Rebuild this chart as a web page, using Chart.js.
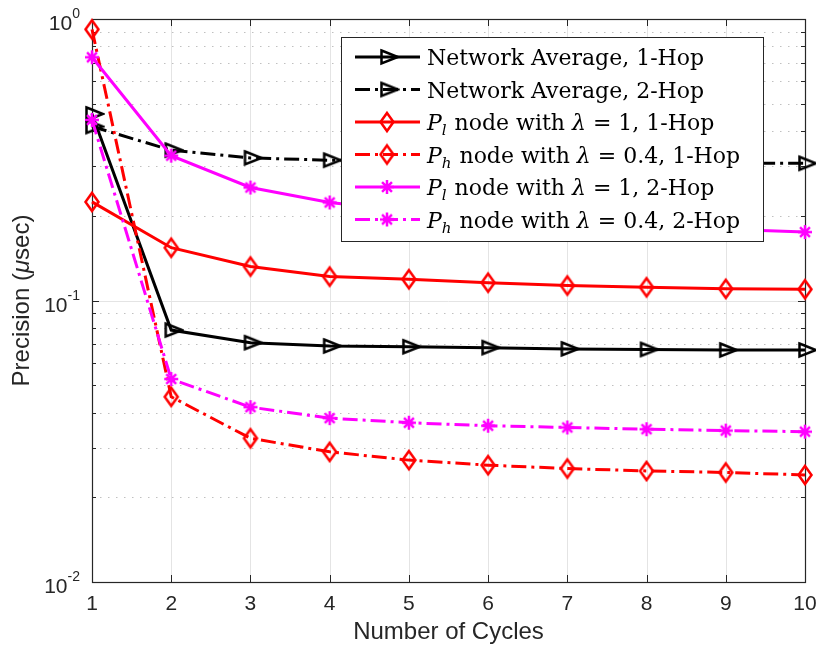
<!DOCTYPE html>
<html><head><meta charset="utf-8">
<script src="https://cdn.jsdelivr.net/npm/chart.js@4/dist/chart.umd.min.js"></script>
<style>html,body{margin:0;padding:0;background:#fff;}#wrap{width:816px;height:647px;position:relative;}</style>
</head><body><div id="wrap"><canvas id="c" width="816" height="647"></canvas></div>
<script>
// ---------------- data ----------------
const cycles = [1, 2, 3, 4, 5, 6, 7, 8, 9, 10];
const netAvg1Hop = [0.46, 0.0785, 0.0708, 0.0689, 0.0685, 0.068, 0.0673, 0.067, 0.0667, 0.0667];
const netAvg2Hop = [0.415, 0.342, 0.321, 0.315, 0.313, 0.312, 0.310, 0.309, 0.308, 0.307];
const plNode1Hop = [0.224, 0.154, 0.132, 0.1216, 0.119, 0.1157, 0.113, 0.1114, 0.110, 0.1096];
const phNode1Hop = [0.919, 0.0455, 0.0324, 0.029, 0.0271, 0.026, 0.0253, 0.0248, 0.0245, 0.024];
const plNode2Hop = [0.731, 0.327, 0.252, 0.223, 0.208, 0.198, 0.190, 0.184, 0.179, 0.175];
const phNode2Hop = [0.438, 0.0526, 0.0418, 0.0382, 0.0368, 0.0359, 0.0354, 0.0349, 0.0345, 0.0342];
const seriesLabels = [
  'Network Average, 1-Hop',
  'Network Average, 2-Hop',
  'P_l node with λ = 1, 1-Hop',
  'P_h node with λ = 0.4, 1-Hop',
  'P_l node with λ = 1, 2-Hop',
  'P_h node with λ = 0.4, 2-Hop'
];
const yMajorTicks = [0.01, 0.1, 1];
const yMajorExponents = ['-2', '-1', '0'];
const yMinorMultipliers = [2, 3, 4, 5, 6, 7, 8, 9];
const xTitle = 'Number of Cycles';
const yTitleParts = [['Precision (', false], ['μ', true], ['sec)', false]];

// ---------------- styles ----------------
const AX = '#262626';
const DASHDOT = [15, 5, 3, 5];
function makeMarker(kind, color) {
  const c = document.createElement('canvas');
  c.width = 26; c.height = 26;
  const g = c.getContext('2d');
  g.strokeStyle = color; g.lineWidth = 2.5; g.lineJoin = 'miter';
  const cx = 13, cy = 13;
  g.beginPath();
  if (kind === 'tri') {
    const w = 16.5, h = 13;
    g.moveTo(cx - w / 3, cy - h / 2); g.lineTo(cx + 2 * w / 3, cy); g.lineTo(cx - w / 3, cy + h / 2); g.closePath();
  } else if (kind === 'dia') {
    const hw = 6.5, hh = 9;
    g.moveTo(cx, cy - hh); g.lineTo(cx + hw, cy); g.lineTo(cx, cy + hh); g.lineTo(cx - hw, cy); g.closePath();
  } else {
    const r = 7, d = r * Math.SQRT1_2;
    g.moveTo(cx - r, cy); g.lineTo(cx + r, cy);
    g.moveTo(cx, cy - r); g.lineTo(cx, cy + r);
    g.moveTo(cx - d, cy - d); g.lineTo(cx + d, cy + d);
    g.moveTo(cx - d, cy + d); g.lineTo(cx + d, cy - d);
  }
  g.stroke();
  return c;
}
const seriesValues = [netAvg1Hop, netAvg2Hop, plNode1Hop, phNode1Hop, plNode2Hop, phNode2Hop];
const seriesColors = ['#000000', '#000000', '#ff0000', '#ff0000', '#ff00ff', '#ff00ff'];
const seriesMarkers = ['tri', 'tri', 'dia', 'dia', 'star', 'star'];
const seriesDash = [[], DASHDOT, [], DASHDOT, [], DASHDOT];

const datasets = seriesValues.map((vals, i) => ({
  label: seriesLabels[i],
  data: cycles.map((c, j) => ({ x: c, y: vals[j] })),
  borderColor: seriesColors[i],
  backgroundColor: seriesColors[i],
  borderWidth: 3,
  borderDash: seriesDash[i],
  borderCapStyle: 'butt',
  pointStyle: makeMarker(seriesMarkers[i], seriesColors[i]),
  pointRadius: 8,
  pointHoverRadius: 8,
  tension: 0,
  clip: false,
  order: seriesValues.length - i
}));

// ---------------- plugins ----------------
const matlabAxes = {
  id: 'matlabAxes',
  beforeDatasetsDraw(chart) {
    const { ctx, chartArea: { left, right, top, bottom }, scales: { x, y } } = chart;
    ctx.save();
    // major grid
    ctx.strokeStyle = '#e4e4e4'; ctx.lineWidth = 1;
    ctx.beginPath();
    cycles.forEach(c => { const px = Math.round(x.getPixelForValue(c)) + 0.5; ctx.moveTo(px, top); ctx.lineTo(px, bottom); });
    yMajorTicks.forEach(v => { const py = Math.round(y.getPixelForValue(v)) + 0.5; ctx.moveTo(left, py); ctx.lineTo(right, py); });
    ctx.stroke();
    // minor dotted grid
    ctx.strokeStyle = '#c0c0c0'; ctx.setLineDash([1.5, 6.5]);
    ctx.beginPath();
    yMajorTicks.slice(0, -1).forEach(d => yMinorMultipliers.forEach(k => {
      const py = Math.round(y.getPixelForValue(d * k)) + 0.5; ctx.moveTo(left, py); ctx.lineTo(right, py);
    }));
    ctx.stroke();
    ctx.setLineDash([]);
    // ticks
    ctx.strokeStyle = AX; ctx.lineWidth = 1;
    ctx.beginPath();
    cycles.forEach(c => {
      const px = Math.round(x.getPixelForValue(c)) + 0.5;
      ctx.moveTo(px, bottom); ctx.lineTo(px, bottom - 7);
      ctx.moveTo(px, top); ctx.lineTo(px, top + 7);
    });
    yMajorTicks.forEach(v => {
      const py = Math.round(y.getPixelForValue(v)) + 0.5;
      ctx.moveTo(left, py); ctx.lineTo(left + 7, py);
      ctx.moveTo(right, py); ctx.lineTo(right - 7, py);
    });
    yMajorTicks.slice(0, -1).forEach(d => yMinorMultipliers.forEach(k => {
      const py = Math.round(y.getPixelForValue(d * k)) + 0.5;
      ctx.moveTo(left, py); ctx.lineTo(left + 4, py);
      ctx.moveTo(right, py); ctx.lineTo(right - 4, py);
    }));
    ctx.stroke();
    // box
    ctx.strokeStyle = AX; ctx.lineWidth = 1.2;
    ctx.strokeRect(Math.round(left) + 0.5, Math.round(top) + 0.5, Math.round(right - left), Math.round(bottom - top));
    // y tick labels 10^n
    ctx.fillStyle = AX;
    yMajorTicks.forEach((v, i) => {
      const py = y.getPixelForValue(v);
      ctx.font = '14px "Liberation Sans", Arial, sans-serif';
      const sw = ctx.measureText(yMajorExponents[i]).width;
      ctx.textAlign = 'left'; ctx.textBaseline = 'alphabetic';
      const supX = left - 12 - sw;
      ctx.fillText(yMajorExponents[i], supX, py - 1);
      ctx.font = '21px "Liberation Sans", Arial, sans-serif';
      ctx.textAlign = 'right';
      ctx.fillText('10', supX, py + 11);
    });
    // y title
    ctx.save();
    ctx.translate(22, (top + bottom) / 2);
    ctx.rotate(-Math.PI / 2);
    ctx.textBaseline = 'middle'; ctx.textAlign = 'left';
    let total = 0;
    yTitleParts.forEach(([t, it]) => { ctx.font = (it ? 'italic ' : '') + '24px "Liberation Sans", Arial, sans-serif'; total += ctx.measureText(t).width; });
    let cx = -total / 2;
    yTitleParts.forEach(([t, it]) => { ctx.font = (it ? 'italic ' : '') + '24px "Liberation Sans", Arial, sans-serif'; ctx.fillText(t, cx, 0); cx += ctx.measureText(t).width; });
    ctx.restore();
    ctx.restore();
  },
  afterDraw(chart) {
    const { ctx } = chart;
    const bx = 341, by = 37, bw = 422, bh = 204;
    ctx.save();
    ctx.fillStyle = '#ffffff';
    ctx.fillRect(bx, by, bw, bh);
    ctx.strokeStyle = AX; ctx.lineWidth = 1;
    ctx.strokeRect(bx + 0.5, by + 0.5, bw, bh);
    const FS = 22, FAM = '"DejaVu Serif", "Liberation Serif", serif';
    chart.data.datasets.forEach((ds, i) => {
      const ry = by + 20 + i * 32.5;
      ctx.strokeStyle = ds.borderColor; ctx.lineWidth = ds.borderWidth;
      ctx.setLineDash(ds.borderDash); ctx.lineCap = 'butt';
      ctx.beginPath(); ctx.moveTo(355, ry); ctx.lineTo(420, ry); ctx.stroke();
      ctx.setLineDash([]);
      const m = ds.pointStyle;
      ctx.drawImage(m, 387 - m.width / 2, ry - m.height / 2);
      // text with math parts
      ctx.fillStyle = '#000000'; ctx.textBaseline = 'alphabetic'; ctx.textAlign = 'left';
      let tx = 427; const base = ry + 8;
      const tokens = ds.label.split(/(P_[a-z]|λ)/).filter(t => t.length);
      tokens.forEach(t => {
        if (t.startsWith('P_')) {
          ctx.font = 'italic ' + FS + 'px ' + FAM;
          ctx.fillText('P', tx, base); tx += ctx.measureText('P').width;
          ctx.font = 'italic ' + Math.round(FS * 0.7) + 'px ' + FAM;
          ctx.fillText(t.slice(2), tx, base + 5); tx += ctx.measureText(t.slice(2)).width + 1;
        } else if (t === 'λ') {
          ctx.font = 'italic ' + FS + 'px ' + FAM;
          ctx.fillText(t, tx, base); tx += ctx.measureText(t).width;
        } else {
          ctx.font = FS + 'px ' + FAM;
          ctx.fillText(t, tx, base); tx += ctx.measureText(t).width;
        }
      });
    });
    ctx.restore();
  }
};

new Chart(document.getElementById('c'), {
  type: 'line',
  data: { datasets },
  plugins: [matlabAxes],
  options: {
    responsive: false,
    animation: false,
    events: [],
    layout: { padding: { top: 19, right: 10, left: 0, bottom: 0 } },
    plugins: { legend: { display: false }, tooltip: { enabled: false } },
    scales: {
      x: {
        type: 'linear', min: 1, max: 10,
        grid: { display: false, drawTicks: false },
        border: { display: false },
        ticks: { stepSize: 1, padding: 10, color: AX, font: { family: '"Liberation Sans", Arial, sans-serif', size: 21 }, maxRotation: 0 },
        title: { display: true, text: xTitle, color: AX, font: { family: '"Liberation Sans", Arial, sans-serif', size: 24 }, padding: { top: 0, bottom: 0 } },
        afterFit(s) { s.height = 65; s.paddingLeft = 0; s.paddingRight = 0; }
      },
      y: {
        type: 'logarithmic', min: 0.01, max: 1,
        grid: { display: false, drawTicks: false },
        border: { display: false },
        ticks: { display: false },
        afterFit(s) { s.width = 92; s.paddingTop = 0; s.paddingBottom = 0; }
      }
    }
  }
});
</script>
</body></html>
